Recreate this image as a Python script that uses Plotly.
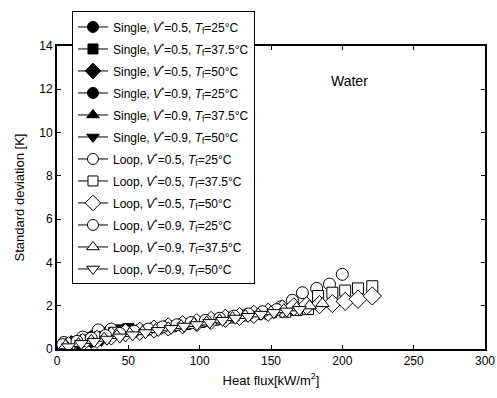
import plotly.graph_objects as go

# Heat flux [kW/m2] and standard deviation [K] for each test condition
single_v05_t25_q = [3, 8, 13, 18, 23, 28, 33]
single_v05_t25_s = [0.10, 0.20, 0.30, 0.40, 0.50, 0.60, 0.70]
single_v05_t375_q = [5, 12, 20, 28, 36, 44, 50]
single_v05_t375_s = [0.15, 0.25, 0.40, 0.55, 0.72, 0.86, 0.92]
single_v05_t50_q = [4, 10, 17, 24, 31, 38]
single_v05_t50_s = [0.10, 0.20, 0.30, 0.45, 0.55, 0.65]
single_v09_t25_q = [6, 14, 22, 30]
single_v09_t25_s = [0.15, 0.30, 0.45, 0.60]
single_v09_t375_q = [8, 15, 22, 29, 36]
single_v09_t375_s = [0.20, 0.30, 0.45, 0.50, 0.60]
single_v09_t50_q = [10, 18, 26, 34]
single_v09_t50_s = [0.20, 0.35, 0.45, 0.60]

loop_v05_t25_q = [5, 18, 29, 38, 47, 57, 67, 77, 87, 97, 107, 117, 127, 137, 147, 157, 165, 172, 182, 191, 200]
loop_v05_t25_s = [0.30, 0.55, 0.88, 0.92, 0.80, 0.85, 0.95, 1.05, 1.15, 1.22, 1.30, 1.40, 1.50, 1.58, 1.65, 1.95, 2.25, 2.60, 2.80, 3.00, 3.45]
loop_v05_t375_q = [10, 20, 30, 40, 50, 60, 70, 80, 90, 100, 110, 120, 130, 140, 150, 160, 168, 176, 183, 193, 202, 211, 221]
loop_v05_t375_s = [0.25, 0.40, 0.55, 0.75, 0.80, 0.85, 0.95, 1.05, 1.15, 1.25, 1.35, 1.45, 1.55, 1.62, 1.70, 1.72, 1.80, 1.85, 2.45, 2.60, 2.70, 2.80, 2.90]
loop_v05_t50_q = [8, 18, 28, 38, 48, 58, 68, 78, 88, 98, 108, 118, 128, 138, 148, 158, 166, 175, 184, 193, 202, 211, 221]
loop_v05_t50_s = [0.15, 0.30, 0.45, 0.60, 0.75, 0.82, 0.92, 1.02, 1.12, 1.22, 1.32, 1.42, 1.50, 1.60, 1.70, 1.85, 1.95, 2.00, 2.05, 2.10, 2.20, 2.30, 2.45]
loop_v09_t25_q = [4, 14, 24, 34, 44, 54, 64, 74, 84, 94, 104, 114, 124, 134, 144, 154]
loop_v09_t25_s = [0.20, 0.35, 0.50, 0.62, 0.72, 0.82, 0.92, 1.02, 1.12, 1.22, 1.32, 1.42, 1.52, 1.62, 1.72, 1.82]
loop_v09_t375_q = [6, 15, 24, 33, 42, 51, 60, 69, 78, 87, 96, 105, 114, 123, 132, 141, 150, 159, 168, 177, 186]
loop_v09_t375_s = [0.15, 0.25, 0.40, 0.50, 0.62, 0.72, 0.80, 0.90, 0.98, 1.08, 1.18, 1.25, 1.35, 1.45, 1.55, 1.62, 1.72, 1.82, 1.90, 2.00, 2.10]
loop_v09_t50_q = [8, 17, 26, 35, 44, 53, 62, 71, 80, 89, 98, 107, 116, 125, 134, 143, 152, 161, 170]
loop_v09_t50_s = [0.10, 0.25, 0.35, 0.45, 0.55, 0.65, 0.75, 0.85, 0.95, 1.05, 1.12, 1.22, 1.32, 1.42, 1.50, 1.60, 1.68, 1.75, 1.82]

labels = [
    "Single, <i>V</i><sup>*</sup>=0.5, <i>T</i><sub>f</sub>=25°C",
    "Single, <i>V</i><sup>*</sup>=0.5, <i>T</i><sub>f</sub>=37.5°C",
    "Single, <i>V</i><sup>*</sup>=0.5, <i>T</i><sub>f</sub>=50°C",
    "Single, <i>V</i><sup>*</sup>=0.9, <i>T</i><sub>f</sub>=25°C",
    "Single, <i>V</i><sup>*</sup>=0.9, <i>T</i><sub>f</sub>=37.5°C",
    "Single, <i>V</i><sup>*</sup>=0.9, <i>T</i><sub>f</sub>=50°C",
    "Loop, <i>V</i><sup>*</sup>=0.5, <i>T</i><sub>f</sub>=25°C",
    "Loop, <i>V</i><sup>*</sup>=0.5, <i>T</i><sub>f</sub>=37.5°C",
    "Loop, <i>V</i><sup>*</sup>=0.5, <i>T</i><sub>f</sub>=50°C",
    "Loop, <i>V</i><sup>*</sup>=0.9, <i>T</i><sub>f</sub>=25°C",
    "Loop, <i>V</i><sup>*</sup>=0.9, <i>T</i><sub>f</sub>=37.5°C",
    "Loop, <i>V</i><sup>*</sup>=0.9, <i>T</i><sub>f</sub>=50°C",
]

series = [
    (single_v05_t25_q, single_v05_t25_s, "circle", True),
    (single_v05_t375_q, single_v05_t375_s, "square", True),
    (single_v05_t50_q, single_v05_t50_s, "diamond", True),
    (single_v09_t25_q, single_v09_t25_s, "circle", True),
    (single_v09_t375_q, single_v09_t375_s, "triangle-up", True),
    (single_v09_t50_q, single_v09_t50_s, "triangle-down", True),
    (loop_v05_t25_q, loop_v05_t25_s, "circle", False),
    (loop_v05_t375_q, loop_v05_t375_s, "square", False),
    (loop_v05_t50_q, loop_v05_t50_s, "diamond", False),
    (loop_v09_t25_q, loop_v09_t25_s, "circle", False),
    (loop_v09_t375_q, loop_v09_t375_s, "triangle-up", False),
    (loop_v09_t50_q, loop_v09_t50_s, "triangle-down", False),
]

SIZES = {"circle": 12, "square": 11, "diamond": 14, "triangle-up": 12, "triangle-down": 12}
LEGEND_SIZES = {"circle": 11, "square": 10, "diamond": 12, "triangle-up": 11, "triangle-down": 11}

fig = go.Figure()

for i, ((q, s, sym, filled), name) in enumerate(zip(series, labels)):
    fill = "black" if filled else "white"
    # data points
    fig.add_trace(go.Scatter(
        x=q, y=s, mode="markers",
        marker=dict(symbol=sym, size=SIZES[sym], color=fill,
                    line=dict(color="black", width=1)),
        showlegend=False, hoverinfo="skip",
    ))
    # legend entry with line-through-marker symbol
    fig.add_trace(go.Scatter(
        x=[None], y=[None], mode="lines+markers",
        marker=dict(symbol=sym, size=LEGEND_SIZES[sym], color=fill,
                    line=dict(color="black", width=1)),
        line=dict(color="black", width=1),
        name=name, legendgroup=f"g{i}", showlegend=True,
    ))

fig.add_annotation(
    x=205, y=12.4, xref="x", yref="y", text="Water", showarrow=False,
    font=dict(size=14, color="black"),
)

axis_common = dict(
    showline=True, linecolor="black", linewidth=2, mirror="ticks",
    ticks="inside", ticklen=4, tickcolor="black", tickwidth=1,
    showgrid=False, zeroline=False, automargin=False,
    tickfont=dict(size=12, color="black"),
)

fig.update_layout(
    width=497, height=398,
    margin=dict(l=57, r=12, t=42, b=49),
    paper_bgcolor="white", plot_bgcolor="white",
    font=dict(family="Liberation Sans, Arial, sans-serif", color="black"),
    xaxis=dict(
        range=[0, 300], tickvals=[0, 50, 100, 150, 200, 250, 300],
        title=dict(text="Heat flux[kW/m<sup>2</sup>]", font=dict(size=13), standoff=8),
        **axis_common,
    ),
    yaxis=dict(
        range=[0, 14], tickvals=[0, 2, 4, 6, 8, 10, 12, 14],
        title=dict(text="Standard deviation [K]", font=dict(size=13), standoff=12),
        **axis_common,
    ),
    legend=dict(
        x=0.035, xanchor="left", y=1.114, yanchor="top",
        bgcolor="white", bordercolor="black", borderwidth=1,
        font=dict(size=12, color="black"),
        tracegroupgap=3, itemwidth=30, maxheight=1,
    ),
)

fig.write_html("out.html")
